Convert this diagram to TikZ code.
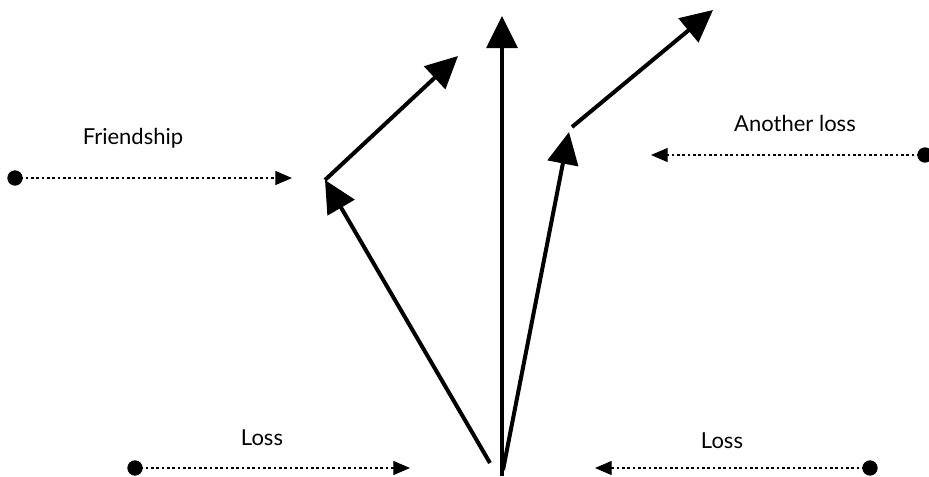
\documentclass[tikz,border=0pt]{standalone}
\usepackage{fontspec}
\setmainfont{Lato}
\usetikzlibrary{arrows.meta}
\begin{document}
\begin{tikzpicture}[x=0.75pt,y=-0.75pt,
  bigarrow/.style={line width=3pt,-{Triangle[length=24pt,width=23pt]}},
  dotarrow/.style={line width=0.9pt,dash pattern=on 2pt off 2pt,-{Triangle[length=12.5pt,width=10.5pt]}},
  dotend/.style={circle,fill=black,inner sep=0pt,minimum size=11.5pt},
  lbl/.style={font=\fontsize{16.5}{19}\selectfont,inner sep=0pt}]
\useasboundingbox (0,0) rectangle (929,476);
% dotted arrows
\node[dotend] (d1) at (15,178) {};
\coordinate (t1) at (292,178);
\draw[dotarrow] (d1.center) -- (t1);
\node[lbl] (l1) at (133,138) {Friendship};
\node[dotend] (d2) at (135,468) {};
\coordinate (t2) at (410,468);
\draw[dotarrow] (d2.center) -- (t2);
\node[lbl] (l2) at (262,438) {Loss};
\node[dotend] (d3) at (870,468) {};
\coordinate (t3) at (595,468);
\draw[dotarrow] (d3.center) -- (t3);
\node[lbl] (l3) at (722,441) {Loss};
\node[dotend] (d4) at (925,155) {};
\coordinate (t4) at (651,155);
\draw[dotarrow] (d4.center) -- (t4);
\node[lbl] (l4) at (795,123) {Another loss};
% thick arrows
\coordinate (o1) at (490,463);
\coordinate (a1) at (325,180);
\coordinate (b1) at (458,56);
\coordinate (o2) at (502,476);
\coordinate (a2) at (502,16);
\coordinate (o3) at (503,470);
\coordinate (a3) at (569,132);
\coordinate (s3) at (572,127);
\coordinate (b3) at (713,10);
\draw[bigarrow] (o1) -- (a1);
\draw[bigarrow] (a1) -- (b1);
\draw[bigarrow] (o2) -- (a2);
\draw[bigarrow] (o3) -- (a3);
\draw[bigarrow] (s3) -- (b3);
\end{tikzpicture}
\end{document}
